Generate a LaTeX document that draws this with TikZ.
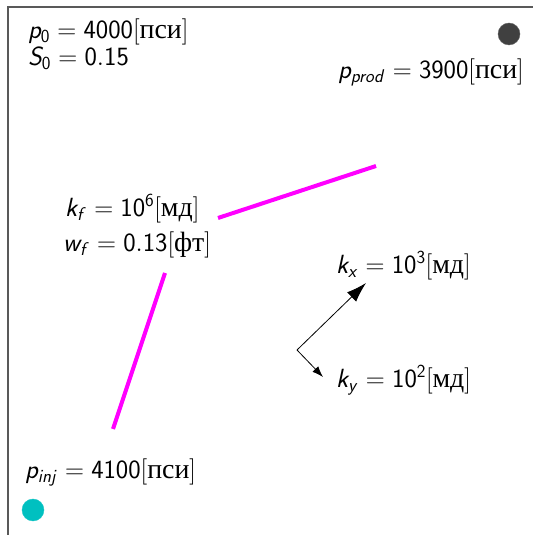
\RequirePackage{fix-cm}
\documentclass[tikz,border=0pt]{standalone}
\usepackage{fontspec}
\newfontfamily\cyrfont[Scale=1.06]{Liberation Serif}
\DeclareMathAlphabet{\mathsfit}{OT1}{cmss}{m}{sl}
\newcommand{\vr}[1]{\mathsfit{#1}}
\newcommand{\nm}[1]{\mathsf{#1}}
\newcommand{\cyrunit}[1]{[\mbox{\cyrfont #1}]}
\usetikzlibrary{arrows.meta}
\definecolor{fracpink}{RGB}{255,0,255}
\definecolor{injcyan}{RGB}{0,192,192}

\begin{document}
\begin{tikzpicture}[x=1pt,y=1pt,
                    param/.style={inner sep=0pt,anchor=base west,
                                  font=\fontsize{26.3}{28}\selectfont},
                    frac/.style={draw=fracpink,line width=4pt},
                    well/.style={circle,minimum size=22pt,inner sep=0pt},
                    axis/.style={draw=black,line width=0.8pt}]
  \useasboundingbox (0,0) rectangle (533,535);
  \draw[black!65,line width=1.3pt] (8,0) -- (8,528) -- (533,528);

  \node[well,fill=black!75,draw=black!60] (prod) at (509,501) {};
  \node[well,fill=injcyan,draw=injcyan!90!white] (inj) at (33,25) {};

  \node[param] (init) at (28,496) {$\vr{p}_{\nm{0}}=\nm{4000}\cyrunit{пси}$};
  \node[param] (sat) at (28,469) {$\vr{S}_{\nm{0}}=\nm{0.15}$};
  \node[param,anchor=base east] (pprod) at (524,456) {$\vr{p}_{\vr{prod}}=\nm{3900}\cyrunit{пси}$};
  \node[param] (kf) at (65,318) {$\vr{k}_{\vr{f}}=\nm{10}^{\nm{6}}\cyrunit{мд}$};
  \node[param] (wf) at (63,283) {$\vr{w}_{\vr{f}}=\nm{0.13}\cyrunit{фт}$};
  \node[param] (kx) at (336,261) {$\vr{k}_{\vr{x}}=\nm{10}^{\nm{3}}\cyrunit{мд}$};
  \node[param] (ky) at (336,147) {$\vr{k}_{\vr{y}}=\nm{10}^{\nm{2}}\cyrunit{мд}$};
  \node[param] (pinj) at (25,56) {$\vr{p}_{\vr{inj}}=\nm{4100}\cyrunit{пси}$};

  \coordinate (fa) at (218,317);
  \coordinate (fb) at (376,369);
  \coordinate (fc) at (165,262);
  \coordinate (fd) at (113,106);
  \draw[frac] (fa) -- (fb);
  \draw[frac] (fc) -- (fd);

  \coordinate (orig) at (297,185);
  \coordinate (xtip) at (366,252);
  \coordinate (ytip) at (323,158);
  \draw[axis,-{Latex[length=20pt,width=13pt]}] (orig) -- (xtip);
  \draw[axis,-{Latex[length=11pt,width=8pt]}] (orig) -- (ytip);
\end{tikzpicture}
\end{document}
